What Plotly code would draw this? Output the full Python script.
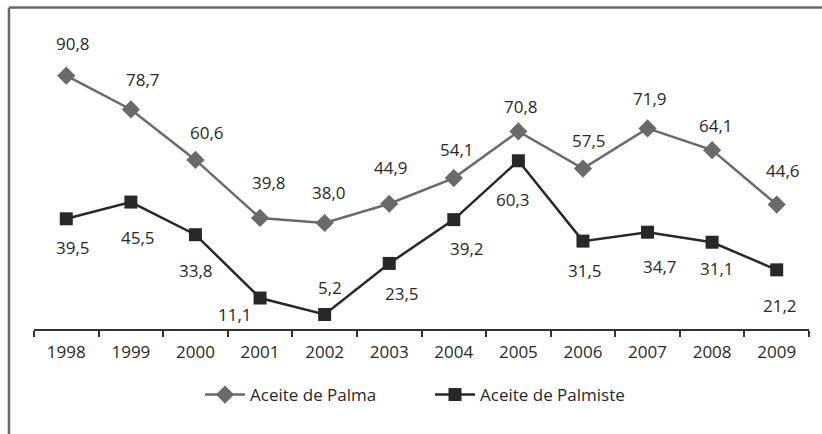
import plotly.graph_objects as go

years = ["1998", "1999", "2000", "2001", "2002", "2003", "2004", "2005", "2006", "2007", "2008", "2009"]
palma = [90.8, 78.7, 60.6, 39.8, 38.0, 44.9, 54.1, 70.8, 57.5, 71.9, 64.1, 44.6]
palmiste = [39.5, 45.5, 33.8, 11.1, 5.2, 23.5, 39.2, 60.3, 31.5, 34.7, 31.1, 21.2]

# label offsets in pixels (dx, dy screen-down)
palma_off = [(7, -32), (12, -30), (12, -27), (9, -35), (4, -30), (2, -36),
             (3, -29), (3, -25), (6, -28), (2, -30), (4, -25), (6, -34)]
palmiste_off = [(7, 29), (7, 35), (1, 36), (-25, 16), (5, -27), (13, 30),
                (13, 29), (-5, 39), (2, 29), (12, 34), (5, 26), (3, 36)]

FONT = "Open Sans"
TXT = "#2a2728"
GRAY = "#6a6a6c"
FS = 17

W, H = 822, 434
ML, MR, MT, MB = 34, 13, 50, 105
PW, PH = W - ML - MR, H - MT - MB


def fmt(v):
    return f"{v:.1f}".replace(".", ",")


fig = go.Figure()
fig.add_trace(go.Scatter(
    x=years, y=palma, name="Aceite de Palma", mode="lines+markers",
    line=dict(color=GRAY, width=2.5),
    marker=dict(symbol="diamond", size=14, color=GRAY),
))
fig.add_trace(go.Scatter(
    x=years, y=palmiste, name="Aceite de Palmiste", mode="lines+markers",
    line=dict(color=TXT, width=2.5),
    marker=dict(symbol="square", size=13, color=TXT),
))

ann = []
for i, (v, (dx, dy)) in enumerate(zip(palma, palma_off)):
    ann.append(dict(x=i, y=v, xref="x", yref="y", text=fmt(v), showarrow=False,
                    xshift=dx, yshift=-dy, font=dict(family=FONT, size=FS, color=TXT)))
for i, (v, (dx, dy)) in enumerate(zip(palmiste, palmiste_off)):
    ann.append(dict(x=i, y=v, xref="x", yref="y", text=fmt(v), showarrow=False,
                    xshift=dx, yshift=-dy, font=dict(family=FONT, size=FS, color=TXT)))


def px_x(p):
    return (p - ML) / PW


def px_y(p):
    return (H - MB - p) / PH


shapes = [
    dict(type="line", xref="paper", yref="paper", x0=px_x(9), x1=px_x(823),
         y0=px_y(7.5), y1=px_y(7.5), line=dict(color=GRAY, width=2.5)),
    dict(type="line", xref="paper", yref="paper", x0=px_x(9), x1=px_x(9),
         y0=px_y(7.5), y1=px_y(436), line=dict(color=GRAY, width=2.5)),
]

fig.update_layout(
    width=W, height=H,
    margin=dict(l=ML, r=MR, t=MT, b=MB),
    paper_bgcolor="white", plot_bgcolor="white",
    font=dict(family=FONT, size=FS, color=TXT),
    separators=",.",
    showlegend=True,
    legend=dict(orientation="h", x=px_x(200), xanchor="left", y=px_y(395), yanchor="middle",
                font=dict(family=FONT, size=FS, color=TXT), itemwidth=40,
                entrywidth=175, entrywidthmode="pixels",
                traceorder="normal"),
    annotations=ann,
    shapes=shapes,
    xaxis=dict(type="category", range=[-0.5, 11.5], showline=True, linecolor="#333333",
               linewidth=1.5, ticks="outside", tickson="boundaries", ticklen=6,
               tickcolor="#333333", tickwidth=1.5, showgrid=False, zeroline=False,
               ticklabelstandoff=7,
               tickfont=dict(family=FONT, size=FS, color=TXT), fixedrange=True),
    yaxis=dict(range=[0, 100], visible=False, showgrid=False, zeroline=False, fixedrange=True),
)

fig.write_html("out.html", config={"displayModeBar": False},
               post_script="document.body.style.margin='0';document.body.style.overflow='hidden';")
